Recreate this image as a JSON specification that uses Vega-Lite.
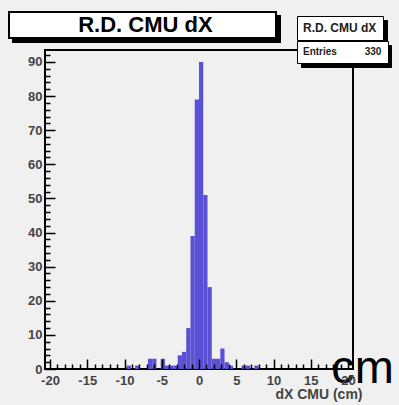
{
  "$schema": "https://vega.github.io/schema/vega-lite/v6.json",
  "width": 308,
  "height": 319,
  "autosize": "none",
  "padding": {"left": 45, "top": 50, "right": 46, "bottom": 36},
  "background": "#f0f0f0",
  "config": {
    "font": "Liberation Sans",
    "view": {"stroke": "black", "strokeWidth": 2}
  },
  "title": {
    "text": "cm",
    "orient": "bottom",
    "anchor": "end",
    "frame": "group",
    "font": "Liberation Sans",
    "fontSize": 47,
    "fontWeight": "normal",
    "color": "black",
    "baseline": "alphabetic",
    "offset": 0,
    "dx": 41,
    "dy": -18
  },
  "data": {
    "values": [
      {"lo": -9.714, "hi": -9.143, "count": 1},
      {"lo": -8.571, "hi": -8.0, "count": 1},
      {"lo": -6.857, "hi": -6.286, "count": 3},
      {"lo": -6.286, "hi": -5.714, "count": 3},
      {"lo": -5.143, "hi": -4.571, "count": 3},
      {"lo": -4.571, "hi": -4.0, "count": 1},
      {"lo": -4.0, "hi": -3.429, "count": 1},
      {"lo": -3.429, "hi": -2.857, "count": 1},
      {"lo": -2.857, "hi": -2.286, "count": 4},
      {"lo": -2.286, "hi": -1.714, "count": 5},
      {"lo": -1.714, "hi": -1.143, "count": 12},
      {"lo": -1.143, "hi": -0.571, "count": 39},
      {"lo": -0.571, "hi": 0.0, "count": 79},
      {"lo": 0.0, "hi": 0.571, "count": 90},
      {"lo": 0.571, "hi": 1.143, "count": 51},
      {"lo": 1.143, "hi": 1.714, "count": 24},
      {"lo": 1.714, "hi": 2.286, "count": 3},
      {"lo": 2.286, "hi": 2.857, "count": 3},
      {"lo": 2.857, "hi": 3.429, "count": 6},
      {"lo": 3.429, "hi": 4.0, "count": 2},
      {"lo": 4.0, "hi": 4.571, "count": 1},
      {"lo": 5.714, "hi": 6.286, "count": 1},
      {"lo": 6.286, "hi": 6.857, "count": 1},
      {"lo": 7.429, "hi": 8.0, "count": 1}
    ]
  },
  "resolve": {
    "axis": {"x": "independent", "y": "independent"},
    "scale": {"color": "independent", "strokeDash": "independent"}
  },
  "layer": [
    {
      "mark": {"type": "bar", "orient": "vertical", "binSpacing": 0, "strokeWidth": 0},
      "encoding": {
        "x": {
          "field": "lo",
          "type": "quantitative",
          "scale": {"domain": [-20, 20], "nice": false, "zero": false},
          "axis": {
            "orient": "bottom",
            "offset": -10,
            "zindex": 1,
            "values": [-20, -15, -10, -5, 0, 5, 10, 15, 20],
            "labelExpr": "'' + datum.value",
            "tickSize": 10,
            "labelPadding": 5,
            "tickColor": "black",
            "tickWidth": 1.5,
            "domain": false,
            "grid": false,
            "labelFontSize": 13,
            "labelFontWeight": "bold",
            "labelColor": "#444444",
            "labelFlush": false,
            "labelOverlap": false,
            "title": "dX CMU (cm)",
            "titleFontSize": 14,
            "titleFontWeight": "bold",
            "titleColor": "#444444",
            "titleAlign": "right",
            "titleX": 317,
            "titleY": 39,
            "titleBaseline": "alphabetic"
          }
        },
        "x2": {"field": "hi"},
        "y": {
          "field": "count",
          "type": "quantitative",
          "scale": {"domain": [0, 93.5], "nice": false},
          "axis": {
            "orient": "left",
            "offset": -10,
            "zindex": 1,
            "values": [0, 10, 20, 30, 40, 50, 60, 70, 80, 90],
            "labelExpr": "'' + datum.value",
            "tickSize": 10,
            "labelPadding": 3,
            "tickColor": "black",
            "tickWidth": 1.5,
            "domain": false,
            "grid": false,
            "labelFontSize": 13,
            "labelFontWeight": "bold",
            "labelColor": "#444444",
            "labelFlush": false,
            "labelOverlap": false,
            "title": null
          }
        },
        "color": {
          "datum": "R.D. CMU dX",
          "type": "nominal",
          "scale": {"range": ["#5a50d6"]},
          "legend": {
            "orient": "none", "legendX": -36, "legendY": -38, "zindex": 2,
            "title": null, "padding": 2,
            "fillColor": "white", "strokeColor": "black",
            "symbolSize": 0, "symbolOpacity": 0, "symbolStrokeWidth": 0,
            "labelOffset": -22, "labelLimit": 400,
            "labelFontSize": 22, "labelFontWeight": "bold", "labelColor": "black",
            "labelExpr": "'\u200b\u00a0\u00a0\u00a0\u00a0\u00a0\u00a0\u00a0\u00a0\u00a0\u00a0\u00a0' + datum.label + '\u00a0\u00a0\u00a0\u00a0\u00a0\u00a0\u00a0\u00a0\u00a0\u00a0\u200b'",
            "encode": {"legend": {"update": {"strokeWidth": {"value": 2}}}}
          }
        },
        "opacity": {
          "datum": "R.D. CMU dX\u200b",
          "type": "nominal",
          "scale": {"range": [1, 1]},
          "legend": {
            "orient": "none", "legendX": 252, "legendY": -34, "zindex": 2,
            "title": null, "padding": 6,
            "fillColor": "white", "strokeColor": "black",
            "symbolSize": 0, "symbolOpacity": 0, "symbolStrokeWidth": 0,
            "labelOffset": -12, "labelLimit": 400,
            "labelFontSize": 12, "labelFontWeight": "bold", "labelColor": "#222222",
            "encode": {"legend": {"update": {"strokeWidth": {"value": 2}}}}
          }
        },
        "strokeDash": {
          "datum": "Entries",
          "type": "nominal",
          "scale": {"range": [[1, 0]]},
          "legend": {
            "orient": "none", "legendX": 252, "legendY": -9, "zindex": 2,
            "title": null, "padding": 6,
            "fillColor": "white", "strokeColor": "black",
            "symbolSize": 0, "symbolOpacity": 0, "symbolStrokeWidth": 0,
            "labelOffset": -10, "labelLimit": 400,
            "labelFontSize": 10, "labelFontWeight": "bold", "labelColor": "#222222",
            "labelExpr": "datum.label + '\u00a0\u00a0\u00a0\u00a0\u00a0\u00a0\u00a0\u00a0\u00a0\u00a0330'",
            "encode": {"legend": {"update": {"strokeWidth": {"value": 2}}}}
          }
        }
      }
    },
    {
      "mark": {"type": "point", "filled": true, "size": 1, "opacity": 0},
      "encoding": {
        "x": {
          "field": "lo",
          "type": "quantitative",
          "scale": {"domain": [-20, 20], "nice": false, "zero": false},
          "axis": {
            "orient": "bottom",
            "offset": -5,
            "zindex": 1,
            "values": [-19, -18, -17, -16, -14, -13, -12, -11, -9, -8, -7, -6, -4, -3, -2, -1, 1, 2, 3, 4, 6, 7, 8, 9, 11, 12, 13, 14, 16, 17, 18, 19],
            "tickSize": 5,
            "tickColor": "black",
            "tickWidth": 1.5,
            "labels": false,
            "domain": false,
            "grid": false,
            "title": null
          }
        },
        "y": {
          "field": "count",
          "type": "quantitative",
          "scale": {"domain": [0, 93.5], "nice": false},
          "axis": {
            "orient": "left",
            "offset": -5,
            "zindex": 1,
            "values": [2, 4, 6, 8, 12, 14, 16, 18, 22, 24, 26, 28, 32, 34, 36, 38, 42, 44, 46, 48, 52, 54, 56, 58, 62, 64, 66, 68, 72, 74, 76, 78, 82, 84, 86, 88, 92],
            "tickSize": 5,
            "tickColor": "black",
            "tickWidth": 1.5,
            "labels": false,
            "domain": false,
            "grid": false,
            "title": null
          }
        },
        "color": {
          "datum": "title shadow",
          "type": "nominal",
          "scale": {"range": ["black"]},
          "legend": {
            "orient": "none", "legendX": -32, "legendY": -34, "zindex": 1,
            "title": null, "padding": 2,
            "fillColor": "black", "strokeColor": "black",
            "symbolSize": 0, "symbolOpacity": 0, "symbolStrokeWidth": 0,
            "labelOffset": -22, "labelLimit": 400,
            "labelFontSize": 22, "labelFontWeight": "bold", "labelColor": "black",
            "labelExpr": "'\u200b\u00a0\u00a0\u00a0\u00a0\u00a0\u00a0\u00a0\u00a0\u00a0\u00a0\u00a0\u00a0\u00a0\u00a0\u00a0\u00a0\u00a0\u00a0\u00a0\u00a0\u00a0\u00a0\u00a0\u00a0\u00a0\u00a0\u00a0\u00a0\u00a0\u00a0\u00a0\u00a0\u00a0\u00a0\u00a0\u00a0\u00a0\u00a0\u00a0\u00a0\u00a0\u00a0\u00a0\u200b'",
            "encode": {"legend": {"update": {"strokeWidth": {"value": 2}}}}
          }
        },
        "shape": {
          "datum": "stats title shadow",
          "type": "nominal",
          "scale": {"range": ["circle"]},
          "legend": {
            "orient": "none", "legendX": 256, "legendY": -30, "zindex": 1,
            "title": null, "padding": 6,
            "fillColor": "black", "strokeColor": "black",
            "symbolSize": 0, "symbolOpacity": 0, "symbolStrokeWidth": 0,
            "labelOffset": -12, "labelLimit": 400,
            "labelFontSize": 12, "labelFontWeight": "bold", "labelColor": "black",
            "labelExpr": "'\u200b\u00a0\u00a0\u00a0\u00a0\u00a0\u00a0\u00a0\u00a0\u00a0\u00a0\u00a0\u00a0\u00a0\u00a0\u00a0\u00a0\u00a0\u00a0\u00a0\u00a0\u00a0\u00a0\u200b'",
            "encode": {"legend": {"update": {"strokeWidth": {"value": 2}}}}
          }
        },
        "strokeDash": {
          "datum": "entries shadow",
          "type": "nominal",
          "scale": {"range": [[1, 0]]},
          "legend": {
            "orient": "none", "legendX": 256, "legendY": -5, "zindex": 1,
            "title": null, "padding": 6,
            "fillColor": "black", "strokeColor": "black",
            "symbolSize": 0, "symbolOpacity": 0, "symbolStrokeWidth": 0,
            "labelOffset": -10, "labelLimit": 400,
            "labelFontSize": 10, "labelFontWeight": "bold", "labelColor": "black",
            "labelExpr": "'\u200b\u00a0\u00a0\u00a0\u00a0\u00a0\u00a0\u00a0\u00a0\u00a0\u00a0\u00a0\u00a0\u00a0\u00a0\u00a0\u00a0\u00a0\u00a0\u00a0\u00a0\u00a0\u00a0\u00a0\u00a0\u00a0\u00a0\u00a0\u00a0\u200b'",
            "encode": {"legend": {"update": {"strokeWidth": {"value": 2}}}}
          }
        }
      }
    }
  ]
}
